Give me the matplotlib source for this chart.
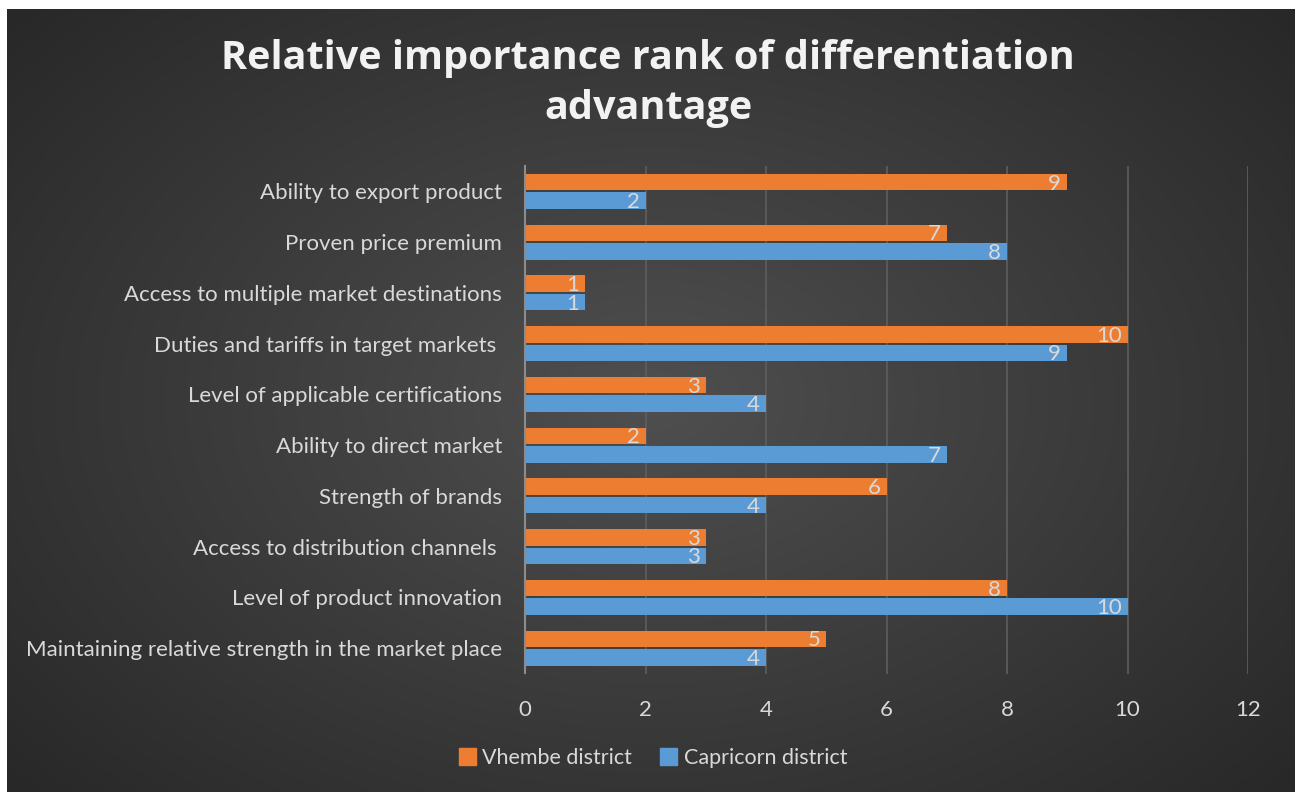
import numpy as np
import matplotlib.pyplot as plt
from matplotlib.patches import Patch

categories = ['Ability to export product', 'Proven price premium',
              'Access to multiple market destinations', 'Duties and tariffs in target markets ',
              'Level of applicable certifications', 'Ability to direct market',
              'Strength of brands', 'Access to distribution channels ',
              'Level of product innovation', 'Maintaining relative strength in the market place']
vhembe = [9, 7, 1, 10, 3, 2, 6, 3, 8, 5]
capricorn = [2, 8, 1, 9, 4, 7, 4, 3, 10, 4]
series_names = ['Vhembe district', 'Capricorn district']
colors = ['#ED7D31', '#5B9BD5']
text_col = '#D9D9D9'

W, H = 1295, 792
fig = plt.figure(figsize=(W / 100, H / 100), dpi=100, facecolor='white')

# dark radial gradient background, small white margin on top/left
bg = fig.add_axes([7 / W, 0, 1 - 7 / W, 1 - 9 / H])
yy, xx = np.mgrid[0:1:300j, 0:1:500j]
r = np.sqrt(((xx - 0.5) * 1.0) ** 2 + ((yy - 0.5) * 0.9) ** 2) / 0.7
r = np.clip(r, 0, 1)
g = 0.31 - 0.16 * r
bg.imshow(np.dstack([g, g, g]), aspect='auto', extent=[0, 1, 0, 1], interpolation='bicubic')
bg.axis('off')

ax = fig.add_axes([525 / W, 1 - 673.5 / H, 723 / W, (673.5 - 166) / H])
ax.set_facecolor('none')

n = len(categories)
y = np.arange(n)
h = 0.325
ax.barh(y - h / 2 - 0.02, vhembe, height=h, color=colors[0], zorder=3)
ax.barh(y + h / 2 + 0.02, capricorn, height=h, color=colors[1], zorder=3)

for i in range(n):
    ax.text(vhembe[i] - 0.1, y[i] - h / 2 + 0.01, str(vhembe[i]), ha='right', va='center',
            color=text_col, fontsize=16, family='Lato', zorder=4)
    ax.text(capricorn[i] - 0.1, y[i] + h / 2 + 0.05, str(capricorn[i]), ha='right', va='center',
            color=text_col, fontsize=16, family='Lato', zorder=4)

ax.set_xlim(0, 12)
ax.set_ylim(n - 0.5, -0.5)
ax.set_xticks(range(0, 13, 2))
ax.set_yticks(y)
ax.set_yticklabels(categories)
ax.grid(axis='x', color='#5E5E5E', lw=1.2, zorder=0)
for s in ['top', 'right', 'bottom']:
    ax.spines[s].set_visible(False)
ax.spines['left'].set_color('#8C8C8C')
ax.spines['left'].set_linewidth(1.5)
ax.spines['left'].set_zorder(5)
ax.tick_params(axis='both', length=0, colors=text_col, labelsize=16)
ax.tick_params(axis='x', pad=19)
ax.tick_params(axis='y', pad=16.5)
for t in ax.get_xticklabels() + ax.get_yticklabels():
    t.set_family('Lato')

fig.text(648 / W, 1 - 58 / H, 'Relative importance rank of differentiation', ha='center', va='center',
         color='#F2F2F2', fontsize=28.5, fontweight='bold', family='Open Sans')
fig.text(648 / W, 1 - 108 / H, 'advantage', ha='center', va='center',
         color='#F2F2F2', fontsize=28.5, fontweight='bold', family='Open Sans')

handles = [Patch(color=c) for c in colors]
leg = fig.legend(handles, series_names, loc='center', bbox_to_anchor=(653 / W, 1 - 758 / H), ncol=2,
                 frameon=False, handlelength=0.8, handleheight=0.8, handletextpad=0.3, columnspacing=1.3,
                 prop={'family': 'Lato', 'size': 15.5})
for t in leg.get_texts():
    t.set_color(text_col)

fig.savefig('out.png', dpi=100, facecolor='white')
